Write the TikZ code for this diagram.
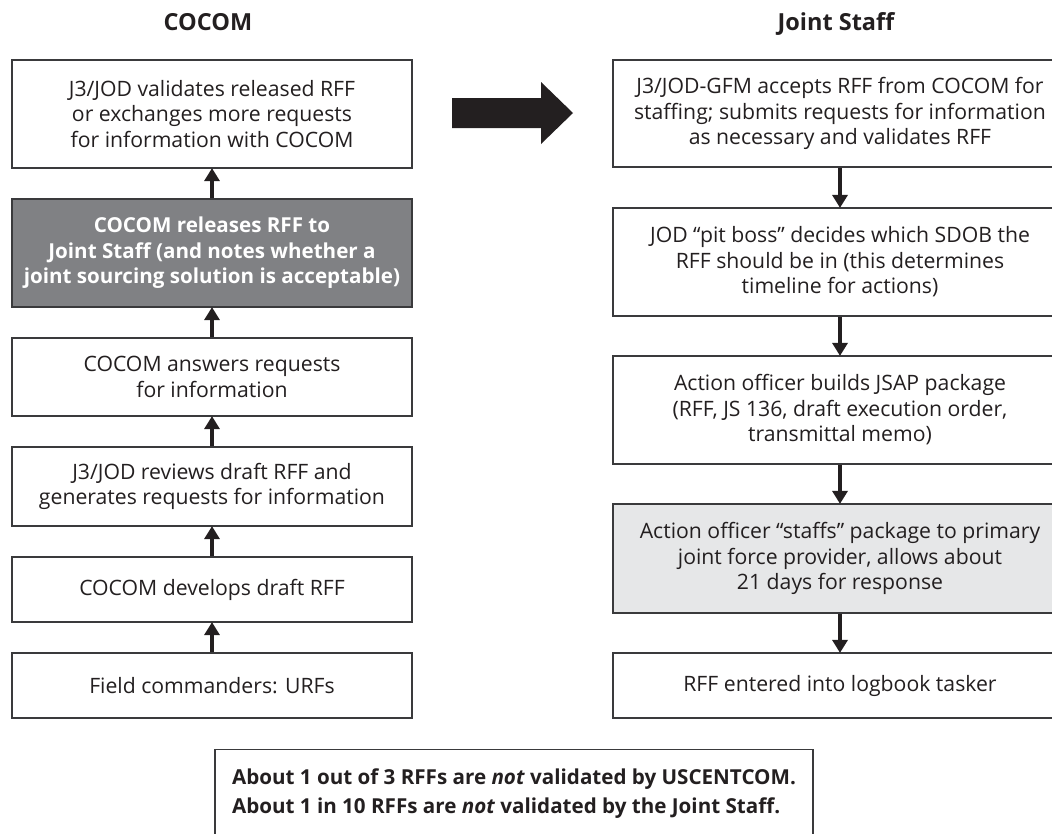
\documentclass[tikz,border=0pt]{standalone}
\usepackage{fontspec}
\setmainfont{Open Sans}
\usetikzlibrary{arrows.meta}
\definecolor{ink}{HTML}{231F20}
\definecolor{boxline}{HTML}{3A3A3C}
\definecolor{darkfill}{HTML}{808184}
\definecolor{lightfill}{HTML}{E6E7E8}
\tikzset{
  flowbox/.style={draw=boxline, line width=1.2pt, fill=white, text=ink,
    align=center, inner sep=0pt,
    font=\fontsize{21.2}{25.5}\selectfont},
  leftbox/.style={flowbox, minimum width=400pt},
  rightbox/.style={flowbox, minimum width=454pt},
  heading/.style={text=ink, font=\fontsize{23.5}{28}\selectfont\bfseries},
  flowarrow/.style={draw=ink, line width=3.5pt,
    -{Triangle[width=15pt,length=13pt]}, shorten >=-0.5pt},
}
\begin{document}
\begin{tikzpicture}[x=1pt, y=-1pt]
  \useasboundingbox (0,0) rectangle (1052,833);
  \clip (0,0) rectangle (1052,833);

  % column headings
  \node[heading] (hcocom) at (208,22) {COCOM};
  \node[heading] (hjs) at (836,24) {Joint Staff};

  % COCOM column (bottom to top flow)
  \node[leftbox, minimum height=108pt] (L1) at (212,114)
    {J3/JOD validates released RFF\\or exchanges more requests\\for information with COCOM};
  \node[leftbox, minimum height=108pt, fill=darkfill, text=white,
        font=\fontsize{20.6}{25.5}\selectfont\bfseries] (L2) at (212,253)
    {COCOM releases RFF to\\Joint Staff (and notes whether a\\joint sourcing solution is acceptable)};
  \node[leftbox, minimum height=78pt] (L3) at (212,377)
    {COCOM answers requests\\for information};
  \node[leftbox, minimum height=79pt] (L4) at (212,486.5)
    {J3/JOD reviews draft RFF and\\generates requests for information};
  \node[leftbox, minimum height=65pt] (L5) at (212,589.5)
    {COCOM develops draft RFF};
  \node[leftbox, minimum height=65pt] (L6) at (212,685.5)
    {Field commanders: URFs};

  \draw[flowarrow] (L6.north) -- (L5.south);
  \draw[flowarrow] (L5.north) -- (L4.south);
  \draw[flowarrow] (L4.north) -- (L3.south);
  \draw[flowarrow] (L3.north) -- (L2.south);
  \draw[flowarrow] (L2.north) -- (L1.south);

  % Joint Staff column (top to bottom flow)
  \node[rightbox, minimum height=107pt] (R1) at (840,113.5)
    {J3/JOD-GFM accepts RFF from COCOM for\\staffing; submits requests for information\\as necessary and validates RFF};
  \node[rightbox, minimum height=108pt] (R2) at (840,262)
    {JOD “pit boss” decides which SDOB the\\RFF should be in (this determines\\timeline for actions)};
  \node[rightbox, minimum height=108pt] (R3) at (840,410)
    {Action officer builds JSAP package\\(RFF, JS 136, draft execution order,\\transmittal memo)};
  \node[rightbox, minimum height=109pt, fill=lightfill] (R4) at (840,558.5)
    {Action officer “staffs” package to primary\\joint force provider, allows about\\21 days for response};
  \node[rightbox, minimum height=65pt] (R5) at (840,685.5)
    {RFF entered into logbook tasker};

  \draw[flowarrow] (R1.south) -- (R2.north);
  \draw[flowarrow] (R2.south) -- (R3.north);
  \draw[flowarrow] (R3.south) -- (R4.north);
  \draw[flowarrow] (R4.south) -- (R5.north);

  % hand-over arrow between the columns
  \fill[ink] (452,98) -- (541,98) -- (541,82) -- (573,113)
    -- (541,144) -- (541,128) -- (452,128) -- cycle;

  % note at the foot
  \node[draw=boxline, line width=1.2pt, text=ink, anchor=north,
        minimum width=598pt, minimum height=87pt, inner sep=0pt,
        align=left, font=\fontsize{20.6}{29}\selectfont\bfseries] (note) at (514,749)
    {About 1 out of 3 RFFs are \textit{not} validated by USCENTCOM.\\
     About 1 in 10 RFFs are \textit{not} validated by the Joint Staff.};
\end{tikzpicture}
\end{document}
